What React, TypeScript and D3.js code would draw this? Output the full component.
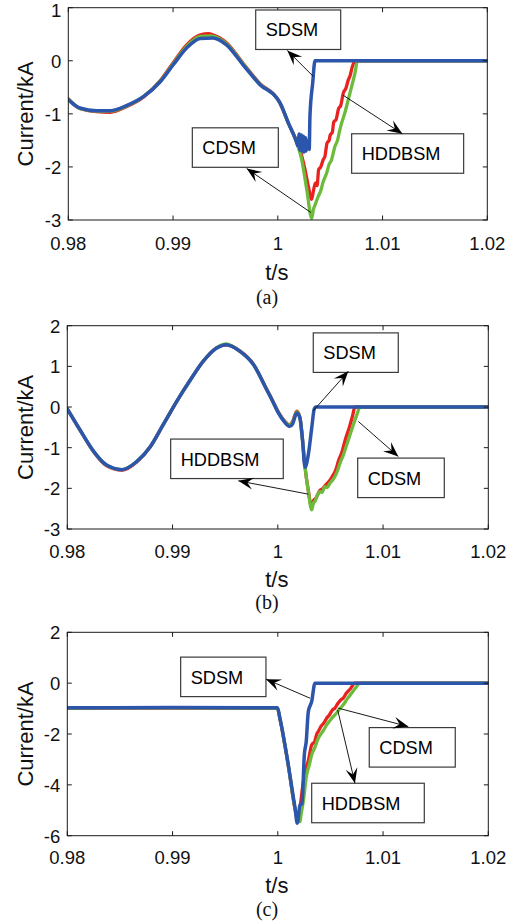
import React from "react";
import * as d3 from "d3";

// Time axis shared by all three panels
const xTicks = [0.98, 0.99, 1.0, 1.01, 1.02];
const xTickLabels = ["0.98", "0.99", "1", "1.01", "1.02"];

// (a)
const aYTicks = [-3, -2, -1, 0, 1];
const aSDSM: [number, number][] = [
  [0.98, -0.73], [0.9811, -0.89], [0.9827, -0.94], [0.984, -0.94], [0.9856, -0.84],
  [0.9872, -0.67], [0.9888, -0.39], [0.99, -0.08], [0.9913, 0.24], [0.9926, 0.42],
  [0.9938, 0.43], [0.9951, 0.3], [0.9967, -0.08], [0.9983, -0.45], [0.9999, -0.7],
  [1.0002, -0.79], [1.001, -1.17], [1.0018, -1.54], [1.0019, -1.6], [1.00205, -1.38],
  [1.0021, -1.68], [1.00225, -1.4], [1.0023, -1.7], [1.00245, -1.42], [1.0025, -1.72],
  [1.00265, -1.45], [1.0027, -1.7], [1.0029, -1.5], [1.003, -1.67], [1.00307, -1.04],
  [1.00333, -0.42], [1.00355, 0], [1.02, 0],
];
const aHDDBSM: [number, number][] = [
  [0.98, -0.72], [0.9811, -0.9], [0.9827, -0.96], [0.984, -0.97], [0.9856, -0.86],
  [0.9872, -0.68], [0.9888, -0.37], [0.99, -0.04], [0.9913, 0.3], [0.9926, 0.49],
  [0.9934, 0.51], [0.9938, 0.49], [0.9951, 0.34], [0.9967, -0.05], [0.9983, -0.43],
  [0.9999, -0.7], [1.0002, -0.8], [1.001, -1.17], [1.0018, -1.52], [1.0021, -1.67],
  [1.0026, -2.05], [1.0029, -2.35], [1.00323, -2.61], [1.0034, -2.45], [1.0036, -2.3],
  [1.00375, -2.35], [1.0039, -2.05], [1.0041, -2.0], [1.00434, -1.86], [1.0045, -1.8],
  [1.0047, -1.55], [1.0049, -1.5], [1.005, -1.4], [1.0052, -1.35], [1.00535, -1.15],
  [1.00556, -1.11], [1.0058, -0.9], [1.006, -0.85], [1.00625, -0.61], [1.0065, -0.52],
  [1.00673, -0.36], [1.0069, -0.28], [1.0071, -0.12], [1.00737, 0], [1.02, 0],
];
const aCDSM: [number, number][] = [
  [0.98, -0.72], [0.9811, -0.9], [0.9827, -0.95], [0.984, -0.95], [0.9856, -0.85],
  [0.9872, -0.67], [0.9888, -0.38], [0.99, -0.06], [0.9913, 0.27], [0.9926, 0.46],
  [0.9936, 0.47], [0.9951, 0.32], [0.9967, -0.06], [0.9983, -0.44], [0.9999, -0.7],
  [1.0002, -0.79], [1.001, -1.17], [1.0018, -1.54], [1.00228, -1.86], [1.00276, -2.42],
  [1.00324, -2.97], [1.0034, -2.8], [1.00355, -2.72], [1.00387, -2.55], [1.0041, -2.45],
  [1.0043, -2.3], [1.00467, -2.11], [1.0049, -1.95], [1.0051, -1.88], [1.00546, -1.61],
  [1.0057, -1.5], [1.0059, -1.32], [1.0061, -1.17], [1.0064, -0.98], [1.00673, -0.73],
  [1.0069, -0.6], [1.00721, -0.36], [1.0074, -0.2], [1.00759, 0], [1.02, 0],
];

// (b)
const bYTicks = [-3, -2, -1, 0, 1, 2];
const bSDSM: [number, number][] = [
  [0.98, -0.05], [0.9812, -0.56], [0.9825, -1.09], [0.9837, -1.42], [0.9852, -1.54],
  [0.9866, -1.34], [0.9879, -0.97], [0.9891, -0.44], [0.9904, 0.14], [0.9917, 0.67],
  [0.9929, 1.12], [0.9942, 1.45], [0.9951, 1.53], [0.9964, 1.37], [0.9977, 1.04],
  [0.9989, 0.45], [0.9995, 0.15], [1.0, -0.12], [1.0007, -0.39], [1.0011, -0.48],
  [1.0014, -0.42], [1.0018, -0.15], [1.0021, -0.27], [1.00233, -0.76], [1.00259, -1.48],
  [1.0029, -1.17], [1.00322, -0.52], [1.00347, -0.04], [1.0036, 0], [1.02, 0],
];
const bHDDBSM: [number, number][] = [
  [0.98, -0.04], [0.9812, -0.56], [0.9825, -1.1], [0.9837, -1.44], [0.9852, -1.55],
  [0.9866, -1.35], [0.9879, -0.97], [0.9891, -0.44], [0.9904, 0.14], [0.9917, 0.67],
  [0.9929, 1.12], [0.9942, 1.46], [0.9951, 1.53], [0.9964, 1.38], [0.9977, 1.05],
  [0.9989, 0.46], [0.9995, 0.16], [1.0, -0.1], [1.0007, -0.36], [1.0011, -0.44],
  [1.0014, -0.36], [1.0018, -0.1], [1.0021, -0.25], [1.00233, -0.76], [1.00259, -1.48],
  [1.0029, -2.05], [1.0032, -2.45], [1.0034, -2.3], [1.0036, -2.25], [1.004, -2.05],
  [1.0043, -2.0], [1.0046, -1.9], [1.0049, -1.82], [1.0052, -1.7], [1.0055, -1.55],
  [1.0058, -1.3], [1.0061, -1.1], [1.00645, -0.77], [1.0068, -0.5], [1.0071, -0.22],
  [1.00733, 0], [1.02, 0],
];
const bCDSM: [number, number][] = [
  [0.98, -0.05], [0.9812, -0.56], [0.9825, -1.09], [0.9837, -1.43], [0.9852, -1.54],
  [0.9866, -1.34], [0.9879, -0.97], [0.9891, -0.44], [0.9904, 0.14], [0.9917, 0.67],
  [0.9929, 1.12], [0.9942, 1.46], [0.9951, 1.55], [0.9964, 1.37], [0.9977, 1.04],
  [0.9989, 0.45], [0.9995, 0.15], [1.0, -0.11], [1.0007, -0.37], [1.0011, -0.45],
  [1.0014, -0.38], [1.0018, -0.12], [1.0021, -0.26], [1.00233, -0.76], [1.00259, -1.48],
  [1.0029, -2.08], [1.00322, -2.53], [1.0034, -2.35], [1.00353, -2.32], [1.0037, -2.2],
  [1.004, -2.08], [1.0042, -2.1], [1.00448, -1.96], [1.0047, -1.98], [1.00496, -1.87],
  [1.0052, -1.8], [1.00543, -1.71], [1.0057, -1.55], [1.00591, -1.38], [1.0062, -1.2],
  [1.00655, -0.93], [1.0069, -0.65], [1.00717, -0.44], [1.0075, -0.2], [1.00781, 0],
  [1.02, 0],
];

// (c)
const cYTicks = [-6, -4, -2, 0, 2];
const cSDSM: [number, number][] = [
  [0.98, -0.97], [0.99, -0.96], [0.99997, -0.97], [1.0002, -1.38], [1.001, -3.22],
  [1.00164, -4.92], [1.00185, -5.51], [1.00211, -4.79], [1.0023, -4.75], [1.00252, -2.82],
  [1.0027, -2.3], [1.0029, -1.12], [1.00322, -0.72], [1.00353, 0], [1.02, 0],
];
const cHDDBSM: [number, number][] = [
  [0.98, -0.99], [0.99, -0.98], [0.99997, -0.99], [1.0002, -1.4], [1.001, -3.25],
  [1.00164, -4.95], [1.00195, -5.45], [1.0022, -4.6], [1.00242, -3.9], [1.0026, -3.48],
  [1.0029, -3.05], [1.00322, -2.43], [1.0035, -2.3], [1.0037, -2.0], [1.00385, -1.9],
  [1.0041, -1.7], [1.0044, -1.55], [1.00464, -1.38], [1.0049, -1.25], [1.0052, -1.05],
  [1.00543, -0.98], [1.0057, -0.8], [1.006, -0.65], [1.00622, -0.59], [1.0065, -0.4],
  [1.0069, -0.22], [1.00733, 0], [1.02, 0],
];
const cCDSM: [number, number][] = [
  [0.98, -0.98], [0.99, -0.97], [0.99997, -0.98], [1.0002, -1.39], [1.001, -3.24],
  [1.00164, -4.94], [1.00211, -5.45], [1.0022, -5.2], [1.00242, -4.66], [1.00274, -3.61],
  [1.003, -3.2], [1.00322, -2.82], [1.0035, -2.55], [1.00385, -2.17], [1.0041, -2.0],
  [1.00435, -1.85], [1.00464, -1.64], [1.0049, -1.5], [1.0052, -1.35], [1.00543, -1.25],
  [1.0058, -1.05], [1.00622, -0.85], [1.0066, -0.62], [1.00702, -0.39], [1.0074, -0.18],
  [1.00781, 0], [1.02, 0],
];

const COLORS = { red: "#e8231f", green: "#6cbb3c", blue: "#2c55ac" };

type Note = {
  label: string;
  at: [number, number]; // top-left of the text box, in data units
  w: number;
  tail: [number, number];
  tip: [number, number];
};

type PanelSpec = {
  left: number; right: number; top: number; bottom: number;
  yDomain: [number, number];
  yTicks: number[];
  red: [number, number][];
  green: [number, number][];
  blue: [number, number][];
  notes: Note[];
  caption: string;
  tickBase: number;
  titleBase: number;
  captionBase: number;
};

const panels: PanelSpec[] = [
  {
    left: 68.3, right: 487.3, top: 7.7, bottom: 220,
    yDomain: [-3, 1], yTicks: aYTicks,
    red: aHDDBSM, green: aCDSM, blue: aSDSM,
    notes: [
      { label: "SDSM", at: [0.99789, 0.957], w: 85, tail: [1.00339, -0.295], tip: [1.00091, 0.193] },
      { label: "CDSM", at: [0.99184, -1.263], w: 86, tail: [1.00314, -2.857], tip: [0.99703, -2.03] },
      { label: "HDDBSM", at: [1.00705, -1.375], w: 112, tail: [1.00625, -0.651], tip: [1.01189, -1.375] },
    ],
    caption: "(a)", tickBase: 250, titleBase: 280, captionBase: 304,
  },
  {
    left: 67.3, right: 488.3, top: 325.7, bottom: 529,
    yDomain: [-3, 2], yTicks: bYTicks,
    red: bHDDBSM, green: bCDSM, blue: bSDSM,
    notes: [
      { label: "SDSM", at: [1.00337, 1.823], w: 85, tail: [1.00337, -0.091], tip: [1.0067, 0.877] },
      { label: "HDDBSM", at: [0.98982, -0.788], w: 112.6, tail: [1.0029, -2.143], tip: [0.99625, -1.815] },
      { label: "CDSM", at: [1.00759, -1.256], w: 86.6, tail: [1.00765, -0.355], tip: [1.01145, -1.217] },
    ],
    caption: "(b)", tickBase: 557.5, titleBase: 586.5, captionBase: 609,
  },
  {
    left: 67.3, right: 488.3, top: 632.3, bottom: 835.7,
    yDomain: [-6, 2], yTicks: cYTicks,
    red: cHDDBSM, green: cCDSM, blue: cSDSM,
    notes: [
      { label: "SDSM", at: [0.99077, 1.024], w: 85.3, tail: [1.00306, -0.591], tip: [0.99888, 0.157] },
      { label: "CDSM", at: [1.00869, -1.748], w: 86, tail: [1.00575, -0.984], tip: [1.0124, -1.709] },
      { label: "HDDBSM", at: [1.00322, -3.937], w: 112.6, tail: [1.00569, -1.051], tip: [1.00733, -3.937] },
    ],
    caption: "(c)", tickBase: 864, titleBase: 893, captionBase: 916,
  },
];

const SANS = "'Liberation Sans', Arial, Helvetica, sans-serif";
const SERIF = "'Liberation Serif', 'Times New Roman', serif";

function arrowHead(tip: [number, number], tail: [number, number]) {
  const dx = tip[0] - tail[0];
  const dy = tip[1] - tail[1];
  const len = Math.hypot(dx, dy) || 1;
  const ux = dx / len, uy = dy / len;
  const px = -uy, py = ux;
  const L = 15, W = 6, notch = 9;
  const p = (a: number, b: number) => `${tip[0] - ux * a + px * b},${tip[1] - uy * a + py * b}`;
  return `M${tip[0]},${tip[1]} L${p(L, W)} L${p(notch, 0)} L${p(L, -W)} Z`;
}

function Panel({ spec }: { spec: PanelSpec }) {
  const x = d3.scaleLinear().domain([0.98, 1.02]).range([spec.left, spec.right]);
  const y = d3.scaleLinear().domain(spec.yDomain).range([spec.bottom, spec.top]);
  const line = d3
    .line<[number, number]>()
    .x((d) => x(d[0]))
    .y((d) => y(d[1]))
    .curve(d3.curveMonotoneX);
  const clipId = `clip-${spec.caption.replace(/[()]/g, "")}`;
  const tl = 4.5;
  const midX = (spec.left + spec.right) / 2;
  const midY = (spec.top + spec.bottom) / 2;

  return (
    <g>
      <defs>
        <clipPath id={clipId}>
          <rect x={spec.left} y={spec.top - 2} width={spec.right - spec.left} height={spec.bottom - spec.top + 4} />
        </clipPath>
      </defs>
      <rect x={spec.left} y={spec.top} width={spec.right - spec.left} height={spec.bottom - spec.top} fill="#fff" />
      <g clipPath={`url(#${clipId})`} fill="none" strokeLinejoin="round" strokeLinecap="round">
        <path d={line(spec.red) || ""} stroke={COLORS.red} strokeWidth={3.3} />
        <path d={line(spec.green) || ""} stroke={COLORS.green} strokeWidth={3.3} />
        <path d={line(spec.blue) || ""} stroke={COLORS.blue} strokeWidth={3.5} />
      </g>
      {/* frame and inward ticks */}
      <g stroke="#1a1a1a" strokeWidth={1} fill="none">
        <rect x={spec.left} y={spec.top} width={spec.right - spec.left} height={spec.bottom - spec.top} />
        {xTicks.map((t) => (
          <g key={`xt${t}`}>
            <line x1={x(t)} x2={x(t)} y1={spec.bottom} y2={spec.bottom - tl} />
            <line x1={x(t)} x2={x(t)} y1={spec.top} y2={spec.top + tl} />
          </g>
        ))}
        {spec.yTicks.map((v) => (
          <g key={`yt${v}`}>
            <line x1={spec.left} x2={spec.left + tl} y1={y(v)} y2={y(v)} />
            <line x1={spec.right} x2={spec.right - tl} y1={y(v)} y2={y(v)} />
          </g>
        ))}
      </g>
      <g fontFamily={SANS} fontSize={18.5} fill="#111">
        {xTicks.map((t, i) => (
          <text key={`xl${t}`} x={x(t)} y={spec.tickBase} textAnchor="middle">
            {xTickLabels[i]}
          </text>
        ))}
        {spec.yTicks.map((v) => (
          <text key={`yl${v}`} x={spec.left - 7} y={Math.max(y(v) + 7, 16.8)} textAnchor="end">
            {String(v)}
          </text>
        ))}
      </g>
      <text
        fontFamily={SANS}
        fontSize={22}
        fill="#111"
        textAnchor="middle"
        transform={`translate(32.5,${midY}) rotate(-90)`}
      >
        Current/kA
      </text>
      <text fontFamily={SANS} fontSize={22} fill="#111" x={midX - 1} y={spec.titleBase} textAnchor="middle">
        t/s
      </text>
      <text fontFamily={SERIF} fontSize={20} fill="#111" x={267} y={spec.captionBase} textAnchor="middle">
        {spec.caption}
      </text>
      {/* annotations */}
      {spec.notes.map((n) => {
        const bx = x(n.at[0]);
        const by = y(n.at[1]);
        const tail: [number, number] = [x(n.tail[0]), y(n.tail[1])];
        const tip: [number, number] = [x(n.tip[0]), y(n.tip[1])];
        return (
          <g key={n.label}>
            <rect x={bx} y={by} width={n.w} height={39.5} fill="#fff" stroke="#3a3a3a" strokeWidth={1.2} />
            <text x={bx + 10} y={by + 26.5} fontFamily={SANS} fontSize={18.2} fill="#000">
              {n.label}
            </text>
            <line x1={tail[0]} y1={tail[1]} x2={tip[0]} y2={tip[1]} stroke="#000" strokeWidth={0.9} />
            <path d={arrowHead(tip, tail)} fill="#000" />
          </g>
        );
      })}
    </g>
  );
}

export default function App() {
  return (
    <svg
      width={512}
      height={924}
      viewBox="0 0 512 924"
      style={{ position: "absolute", left: 0, top: 0, background: "#fff" }}
    >
      <rect width={512} height={924} fill="#fff" />
      {panels.map((p) => (
        <Panel key={p.caption} spec={p} />
      ))}
    </svg>
  );
}
